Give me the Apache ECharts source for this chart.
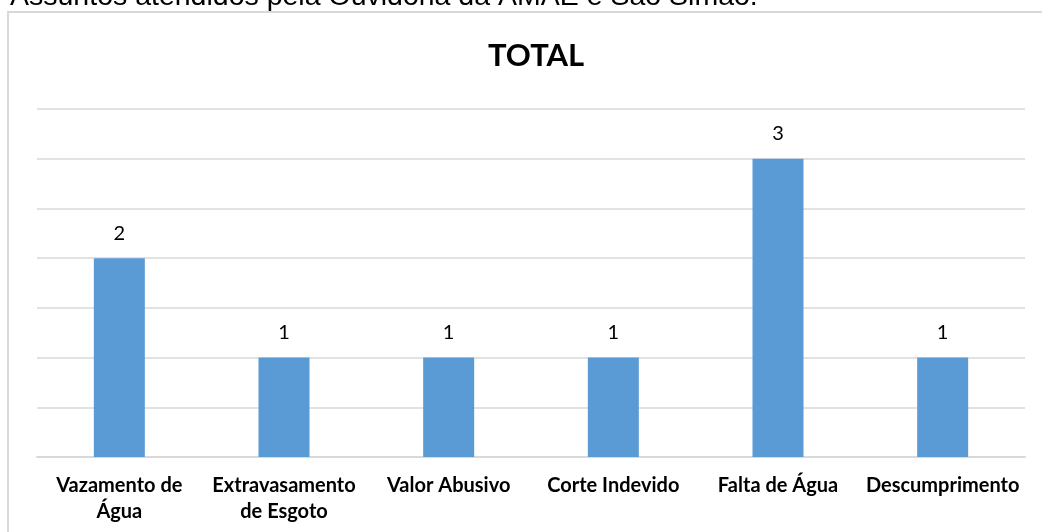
<!DOCTYPE html>
<html>
<head>
<meta charset="utf-8">
<script src="https://cdn.jsdelivr.net/npm/echarts@6/dist/echarts.min.js"></script>
<style>
  html, body { margin: 0; padding: 0; background: #fff; }
  #chart { width: 1042px; height: 532px; }
</style>
</head>
<body>
<div id="chart"></div>
<script>
var categories = ['Vazamento de\nÁgua', 'Extravasamento\nde Esgoto', 'Valor Abusivo', 'Corte Indevido', 'Falta de Água', 'Descumprimento'];
var totals = [2, 1, 1, 1, 3, 1];
var caption = 'Assuntos atendidos pela Ouvidoria da AMAE e São Simão.';

var chart = echarts.init(document.getElementById('chart'));

chart.setOption({
    backgroundColor: '#fff',
    animation: false,
    title: {
        text: 'TOTAL',
        left: 483,
        top: 35,
        textStyle: {
            fontFamily: 'Lato',
            fontWeight: 'bold',
            fontSize: 31,
            color: '#000'
        }
    },
    graphic: [
        {
            type: 'text',
            left: 10,
            top: -17,
            style: {
                text: caption,
                fontFamily: 'Liberation Sans',
                fontSize: 28.5,
                fill: '#000'
            }
        },
        {
            type: 'rect',
            shape: { x: 8, y: 12, width: 1200, height: 700 },
            style: { fill: 'none', stroke: '#d9d9d9', lineWidth: 2 }
        }
    ],
    grid: {
        left: 37,
        right: 17,
        top: 109,
        bottom: 75
    },
    xAxis: {
        type: 'category',
        data: categories,
        axisTick: { show: false },
        axisLine: { lineStyle: { color: '#d9d9d9', width: 2 } },
        axisLabel: {
            interval: 0,
            margin: 16,
            fontFamily: 'Lato',
            fontWeight: 'bold',
            fontSize: 20,
            lineHeight: 26,
            color: '#000'
        }
    },
    yAxis: {
        type: 'value',
        min: 0,
        max: 3.5,
        interval: 0.5,
        axisLabel: { show: false },
        axisLine: { show: false },
        axisTick: { show: false },
        splitLine: { lineStyle: { color: '#d9d9d9', width: 1.5 } }
    },
    series: [{
        type: 'bar',
        data: totals,
        barWidth: 51,
        itemStyle: { color: '#5b9bd5' },
        label: {
            show: true,
            position: 'top',
            distance: 15,
            fontFamily: 'Lato',
            fontSize: 20,
            color: '#000'
        }
    }]
});
</script>
</body>
</html>
